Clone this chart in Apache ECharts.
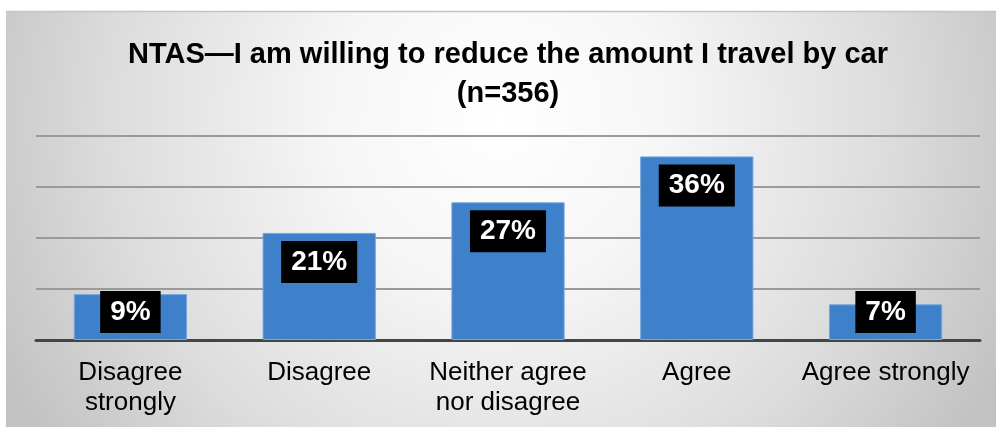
<!DOCTYPE html>
<html>
<head>
<meta charset="utf-8">
<script src="https://cdn.jsdelivr.net/npm/echarts@6/dist/echarts.min.js"></script>
<style>
  html, body { margin: 0; padding: 0; background: #ffffff; }
  #chart { width: 996px; height: 427px; }
</style>
</head>
<body>
<div id="chart"></div>
<script>
// Survey responses: willingness to reduce car travel
const titleText = 'NTAS\u2014I am willing to reduce the amount I travel by car\n(n=356)';
const categories = ['Disagree\nstrongly', 'Disagree', 'Neither agree\nnor disagree', 'Agree', 'Agree strongly'];
const shares = [9, 21, 27, 36, 7];
const yTicks = [0, 10, 20, 30, 40];

const chart = echarts.init(document.getElementById('chart'), null, { renderer: 'canvas' });

// Short bars keep their label sitting on the baseline
const barData = shares.map(v => {
  const item = { value: v };
  if (v < 12) {
    item.label = { position: 'insideBottom', distance: 7 };
  }
  return item;
});

chart.setOption({
  animation: false,
  graphic: [
    {
      type: 'rect',
      z: -10,
      silent: true,
      shape: { x: 6, y: 11, width: 990, height: 416 },
      style: {
        fill: new echarts.graphic.RadialGradient(500, 120, 560, [
          { offset: 0, color: '#ffffff' },
          { offset: 0.3, color: '#f6f6f6' },
          { offset: 0.7, color: '#dcdcdc' },
          { offset: 1, color: '#c2c2c2' }
        ], true),
        stroke: null
      }
    },
    {
      type: 'line',
      z: -9,
      silent: true,
      shape: { x1: 6, y1: 11.5, x2: 996, y2: 11.5 },
      style: { stroke: '#c4c4c4', lineWidth: 1.5 }
    }
  ],
  title: {
    text: titleText,
    left: 503,
    textAlign: 'center',
    top: 30,
    textStyle: {
      fontFamily: 'Liberation Sans, Arial, sans-serif',
      fontSize: 29,
      fontWeight: 'bold',
      color: '#000000',
      lineHeight: 39
    }
  },
  grid: { left: 36, right: 16, top: 136, bottom: 87, containLabel: false },
  xAxis: {
    type: 'category',
    data: categories,
    axisTick: { show: false },
    axisLine: { show: true, lineStyle: { color: '#454545', width: 3 } },
    axisLabel: {
      interval: 0,
      margin: 18,
      fontFamily: 'Liberation Sans, Arial, sans-serif',
      fontSize: 26,
      lineHeight: 30,
      color: '#000000'
    }
  },
  yAxis: {
    type: 'value',
    min: yTicks[0],
    max: yTicks[yTicks.length - 1],
    interval: 10,
    axisLabel: { show: false },
    axisLine: { show: false },
    axisTick: { show: false },
    splitLine: { lineStyle: { color: '#9a9a9a', width: 2 } }
  },
  series: [
    {
      type: 'bar',
      data: barData,
      barWidth: '60%',
      itemStyle: {
        color: '#3f80cb',
        borderColor: '#79a6dc',
        borderWidth: 1
      },
      label: {
        show: true,
        position: 'insideTop',
        distance: 8,
        formatter: p => p.value + '%',
        backgroundColor: '#000000',
        padding: [7, 10, 7, 10],
        fontFamily: 'Liberation Sans, Arial, sans-serif',
        fontSize: 28,
        lineHeight: 28,
        fontWeight: 'bold',
        color: '#ffffff'
      }
    }
  ]
});
</script>
</body>
</html>
